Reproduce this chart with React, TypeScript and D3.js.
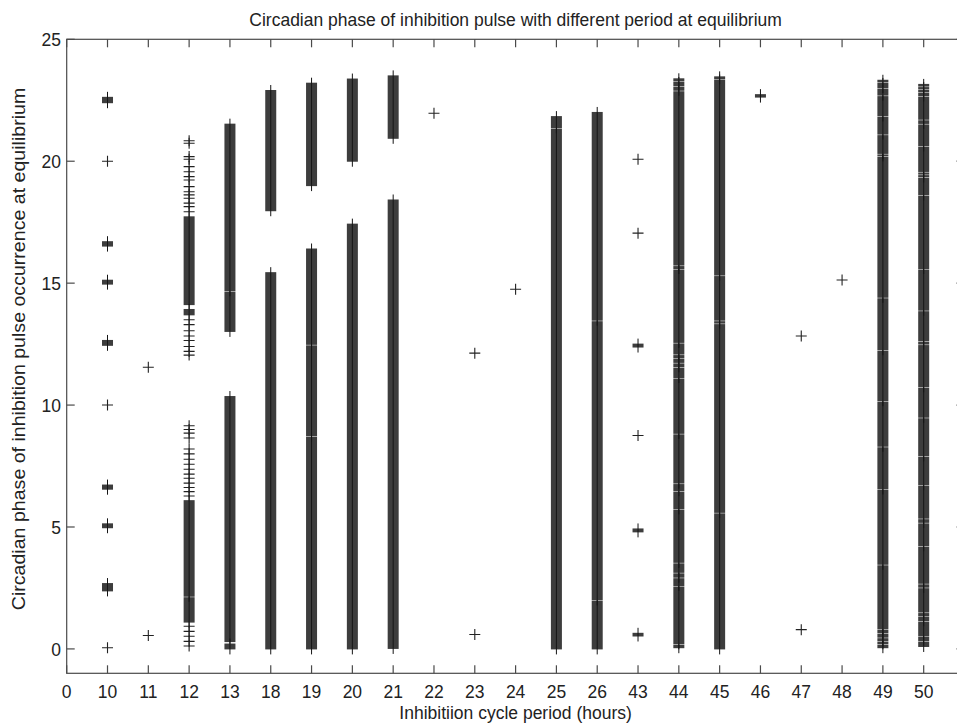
import React from 'react';
import * as d3 from 'd3';

// Inhibition cycle periods (hours) shown on the x axis, evenly spaced
const categories = ['0', '10', '11', '12', '13', '18', '19', '20', '21', '22', '23', '24', '25', '26', '43', '44', '45', '46', '47', '48', '49', '50'];

// Isolated '+' markers: [period, circadian phase]
const singlePhases: [string, number][] = [
  ['10', 20.0], ['10', 10.0], ['10', 0.05],
  ['11', 11.55], ['11', 0.55],
  ['12', 20.84], ['12', 20.74], ['12', 20.19], ['12', 20.08], ['12', 19.78], ['12', 19.57], ['12', 19.37],
  ['12', 19.23], ['12', 18.96], ['12', 18.75], ['12', 18.62], ['12', 18.48], ['12', 18.28], ['12', 18.14], ['12', 17.93],
  ['12', 13.5], ['12', 13.3], ['12', 13.05], ['12', 12.83], ['12', 12.65], ['12', 12.4], ['12', 12.2], ['12', 12.05],
  ['12', 9.15], ['12', 9.0], ['12', 8.85], ['12', 8.65], ['12', 8.2], ['12', 8.0], ['12', 7.78], ['12', 7.57],
  ['12', 7.37], ['12', 7.17], ['12', 7.0], ['12', 6.8], ['12', 6.62], ['12', 6.45], ['12', 6.27],
  ['12', 0.93], ['12', 0.72], ['12', 0.52], ['12', 0.31], ['12', 0.12],
  ['22', 21.97],
  ['23', 12.13], ['23', 0.59],
  ['24', 14.75],
  ['43', 20.08], ['43', 17.05], ['43', 8.75],
  ['47', 12.83], ['47', 0.79],
  ['48', 15.13],
];

// Densely packed runs of markers: [period, lowest phase, highest phase]
const runExtents: [string, number, number][] = [
  ['10', 22.4, 22.62], ['10', 16.52, 16.7], ['10', 14.96, 15.12], ['10', 12.45, 12.65],
  ['10', 6.55, 6.72], ['10', 4.97, 5.13], ['10', 2.38, 2.68],
  ['12', 14.12, 17.72], ['12', 13.7, 13.92], ['12', 1.1, 6.08],
  ['13', 13.02, 21.52], ['13', 0.3, 10.35], ['13', 0.0, 0.2],
  ['18', 17.97, 22.9], ['18', 0.0, 15.43],
  ['19', 19.0, 23.2], ['19', 0.0, 16.4],
  ['20', 20.0, 23.37], ['20', 0.0, 17.42],
  ['21', 20.94, 23.5], ['21', 0.02, 18.41],
  ['25', 0.0, 21.83],
  ['26', 0.0, 22.0],
  ['43', 12.38, 12.5], ['43', 4.8, 4.92], ['43', 0.53, 0.64],
  ['44', 0.05, 23.38],
  ['45', 0.0, 23.46],
  ['46', 22.63, 22.73],
  ['49', 0.05, 23.32],
  ['50', 0.1, 23.15],
];

// Phases inside a run where the markers are spaced apart (thin white lines)
const runGaps: [string, number[]][] = [
  ['12', [2.13]],
  ['13', [14.66]],
  ['19', [12.46, 8.71]],
  ['25', [21.35]],
  ['26', [13.45, 1.98]],
  ['44', [23.26, 23.06, 22.88, 15.71, 15.57, 12.54, 12.06, 11.9, 11.72, 11.54, 11.1, 8.81, 6.77, 6.46, 5.71, 3.52, 3.11, 2.91, 2.57, 0.18]],
  ['45', [23.36, 15.3, 13.45, 13.33, 5.57]],
  ['49', [23.22, 22.99, 22.68, 21.83, 21.08, 20.29, 20.19, 14.39, 12.24, 10.15, 8.28, 6.53, 3.44, 0.79, 0.63, 0.45, 0.31, 0.18]],
  ['50', [23.05, 22.95, 22.81, 22.65, 21.69, 21.52, 20.6, 19.55, 19.44, 19.33, 18.59, 15.57, 13.86, 12.61, 12.47, 10.72, 9.47, 7.89, 6.71, 5.33, 5.16, 4.2, 2.66, 2.5, 1.48, 1.34, 1.13, 0.52, 0.31]],
];

const yTickValues = [0, 5, 10, 15, 20, 25];

const W = 957;
const H = 724;
const LEFT = 66.7;
const RIGHT = 964.5;
const TOP = 39.3;
const BOTTOM = 673.3;
const HALF = 5.5;
const GAP = 0.03;
const TICK = 8;
const FONT = "Arial, 'Liberation Sans', Helvetica, sans-serif";
const FS = 17.5;
const STRETCH = 1.09;

const xScale = d3.scaleLinear().domain([0, categories.length]).range([LEFT, RIGHT]);
const yScale = d3.scaleLinear().domain([-1, 25]).range([BOTTOM, TOP]);

function buildRuns(): [string, number, number][] {
  const out: [string, number, number][] = [];
  for (const [cat, lo, hi] of runExtents) {
    const entry = runGaps.find((g) => g[0] === cat);
    const gaps = (entry ? entry[1] : []).filter((v) => v > lo && v < hi).sort((a, b) => a - b);
    let start = lo;
    for (const v of gaps) {
      out.push([cat, start, v - GAP]);
      start = v + GAP;
    }
    out.push([cat, start, hi]);
  }
  return out;
}

function HText(props: { x: number; y: number; anchor: string; stretch?: number; children: React.ReactNode }) {
  return (
    <text
      transform={`translate(${props.x},${props.y}) scale(1,${props.stretch ?? STRETCH})`}
      textAnchor={props.anchor}
      fontFamily={FONT}
      fontSize={FS}
      fill="#222"
    >
      {props.children}
    </text>
  );
}

export default function App() {
  const runs = buildRuns();
  const cx = (cat: string) => xScale(categories.indexOf(cat));
  const xTicks = d3.range(categories.length);

  return (
    <div>
      <style>{'body{margin:0;}'}</style>
      <svg width={W} height={H} viewBox={`0 0 ${W} ${H}`} style={{ display: 'block', background: '#fff' }}>
        <rect x={0} y={0} width={W} height={H} fill="#fff" />
        {/* runs of markers */}
        <g>
          {runs.map(([cat, lo, hi], i) => {
            const x = cx(cat);
            const yTop = yScale(hi);
            const yBot = yScale(lo);
            return (
              <g key={'r' + i}>
                <rect x={x - HALF} y={yTop - 0.5} width={HALF * 2} height={Math.max(yBot - yTop, 0) + 1} fill="#3d3d3d" />
                <line x1={x} x2={x} y1={yTop - HALF} y2={yBot + HALF} stroke="#151515" strokeWidth={1} />
              </g>
            );
          })}
        </g>
        {/* single markers */}
        <g>
          {singlePhases.map(([cat, v], i) => {
            const x = cx(cat);
            const y = yScale(v);
            return (
              <path
                key={'s' + i}
                d={`M${x - HALF},${y}H${x + HALF}M${x},${y - HALF}V${y + HALF}`}
                stroke="#222"
                strokeWidth={1.1}
                fill="none"
              />
            );
          })}
        </g>
        {/* frame */}
        <rect x={LEFT} y={TOP} width={RIGHT - LEFT} height={BOTTOM - TOP} fill="none" stroke="#4a4a4a" strokeWidth={1.2} />
        {/* ticks */}
        <g stroke="#4a4a4a" strokeWidth={1.2}>
          {xTicks.map((t) => (
            <g key={'xt' + t}>
              <line x1={xScale(t)} x2={xScale(t)} y1={BOTTOM} y2={BOTTOM - TICK} />
              <line x1={xScale(t)} x2={xScale(t)} y1={TOP} y2={TOP + TICK} />
            </g>
          ))}
          {yTickValues.map((t) => (
            <g key={'yt' + t}>
              <line x1={LEFT} x2={LEFT + TICK} y1={yScale(t)} y2={yScale(t)} />
              <line x1={RIGHT} x2={RIGHT - TICK} y1={yScale(t)} y2={yScale(t)} />
            </g>
          ))}
        </g>
        {/* tick labels */}
        {xTicks.map((t) => (
          <HText key={'xl' + t} x={xScale(t)} y={697.5} anchor="middle">
            {categories[t]}
          </HText>
        ))}
        {yTickValues.map((t) => (
          <HText key={'yl' + t} x={61} y={yScale(t) + 6.8} anchor="end">
            {t}
          </HText>
        ))}
        {/* titles */}
        <HText x={(LEFT + RIGHT) / 2} y={25.5} anchor="middle">
          Circadian phase of inhibition pulse with different period at equilibrium
        </HText>
        <HText x={(LEFT + RIGHT) / 2} y={719} anchor="middle" stretch={1.0}>
          Inhibitiion cycle period (hours)
        </HText>
        <text
          transform={`translate(24.5,349) rotate(-90) scale(1.12,1)`}
          textAnchor="middle"
          fontFamily={FONT}
          fontSize={FS}
          fill="#222"
        >
          Circadian phase of inhibition pulse occurrence at equilibrium
        </text>
      </svg>
    </div>
  );
}
